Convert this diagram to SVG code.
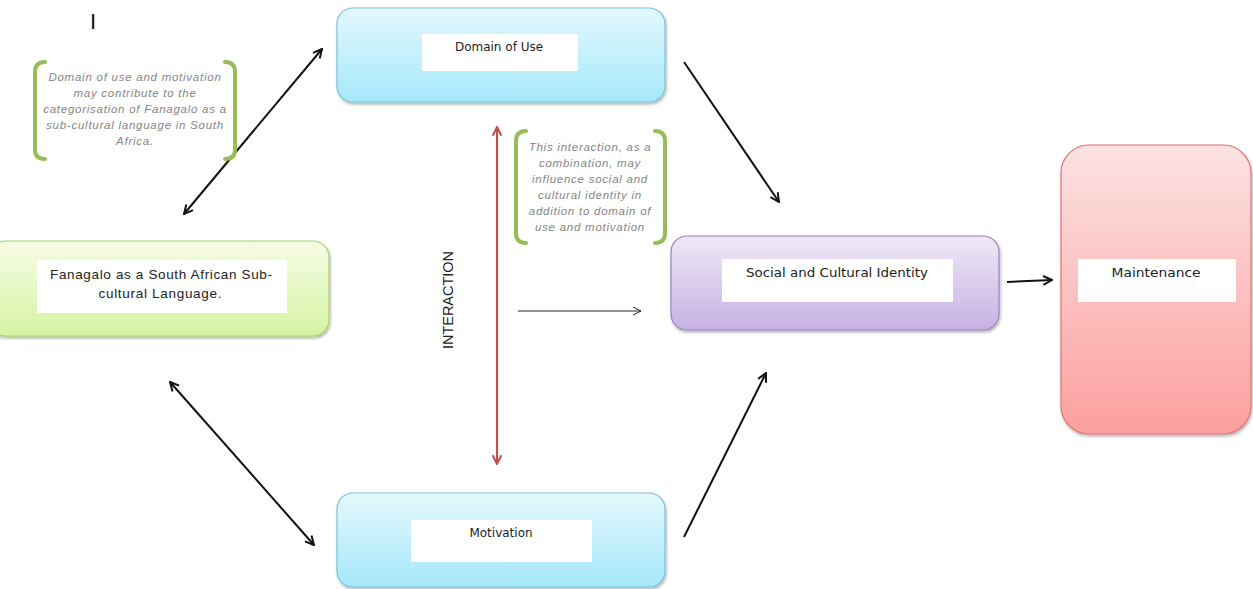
<svg xmlns="http://www.w3.org/2000/svg" width="1253" height="589" viewBox="0 0 1253 589">
<style>
.lbl{font-family:"DejaVu Sans","Verdana",sans-serif;font-size:12px;fill:#222;text-anchor:middle}
.note{font-family:"Liberation Sans","Arial",sans-serif;font-style:italic;font-size:11.5px;fill:#858585;text-anchor:middle;letter-spacing:0.75px}
.brk{fill:none;stroke:#9bbb59;stroke-width:4;stroke-linecap:round}
.conn{stroke:#111;stroke-width:2;fill:none}
.white{fill:#fff}
</style>
<defs>
<linearGradient id="gBlue" x1="0" y1="0" x2="0" y2="1"><stop offset="0" stop-color="#e4f8fd"/><stop offset="1" stop-color="#a5e8fb"/></linearGradient>
<linearGradient id="gGreen" x1="0" y1="0" x2="0" y2="1"><stop offset="0" stop-color="#f6fce6"/><stop offset="1" stop-color="#d6f3a2"/></linearGradient>
<linearGradient id="gPurple" x1="0" y1="0" x2="0" y2="1"><stop offset="0" stop-color="#efe9f8"/><stop offset="1" stop-color="#c6b1e2"/></linearGradient>
<linearGradient id="gPink" x1="0" y1="0" x2="0" y2="1"><stop offset="0" stop-color="#fde2e2"/><stop offset="1" stop-color="#fc9f9f"/></linearGradient>
<filter id="sh" x="-10%" y="-10%" width="120%" height="130%"><feDropShadow dx="1" dy="2" stdDeviation="1.5" flood-color="#000" flood-opacity="0.3"/></filter>
<marker id="ah" viewBox="0 0 10 10" refX="9" refY="5" markerWidth="5.5" markerHeight="5.5" orient="auto-start-reverse" markerUnits="strokeWidth"><path d="M1,1 L9,5 L1,9" fill="none" stroke="#111" stroke-width="1.8"/></marker>
<marker id="ahThin" viewBox="0 0 10 10" refX="9" refY="5" markerWidth="10" markerHeight="10" orient="auto" markerUnits="strokeWidth"><path d="M1,1 L9,5 L1,9" fill="none" stroke="#222" stroke-width="1"/></marker>
<marker id="ahRed" viewBox="0 0 10 10" refX="9" refY="5" markerWidth="5" markerHeight="5" orient="auto-start-reverse" markerUnits="strokeWidth"><path d="M1,1 L9,5 L1,9" fill="none" stroke="#c0504d" stroke-width="1.8"/></marker>
</defs>
<rect width="1253" height="589" fill="#fff"/>

<text x="93" y="29" font-family="Liberation Sans, Arial, sans-serif" font-size="22" fill="#111" text-anchor="middle">I</text>

<g id="connectors">
<line class="conn" x1="184" y1="214" x2="322" y2="49" marker-start="url(#ah)" marker-end="url(#ah)"/>
<line class="conn" x1="170" y1="382" x2="314" y2="545" marker-start="url(#ah)" marker-end="url(#ah)"/>
<line class="conn" x1="684" y1="62" x2="779" y2="202" marker-end="url(#ah)"/>
<line class="conn" x1="684" y1="537" x2="766" y2="373" marker-end="url(#ah)"/>
<line class="conn" x1="1007" y1="282" x2="1052" y2="280" marker-end="url(#ah)"/>
<line x1="518" y1="311" x2="641" y2="311" stroke="#222" stroke-width="1" marker-end="url(#ahThin)"/>
<line x1="497" y1="127" x2="497" y2="464" stroke="#c0504d" stroke-width="2.2" marker-start="url(#ahRed)" marker-end="url(#ahRed)"/>
</g>

<g id="interaction-label">
<text transform="translate(453,300) rotate(-90)" font-family="Liberation Sans, Arial, sans-serif" font-size="15" fill="#222" text-anchor="middle" textLength="98" lengthAdjust="spacingAndGlyphs">INTERACTION</text>
</g>

<g id="note-left">
<path class="brk" d="M45,62 Q35,62 35,72 L35,150 Q35,159 45,159"/>
<path class="brk" d="M225,62 Q235,62 235,72 L235,150 Q235,159 225,159"/>
<text class="note" x="135" y="81">Domain of use and motivation</text>
<text class="note" x="135" y="97">may contribute to the</text>
<text class="note" x="135" y="113">categorisation of Fanagalo as a</text>
<text class="note" x="135" y="129">sub-cultural language in South</text>
<text class="note" x="135" y="145">Africa.</text>
</g>

<g id="note-right">
<path class="brk" d="M526,131 Q516,131 516,141 L516,233 Q516,243 526,243"/>
<path class="brk" d="M655,131 Q665,131 665,141 L665,233 Q665,243 655,243"/>
<text class="note" x="590" y="151">This interaction, as a</text>
<text class="note" x="590" y="167">combination, may</text>
<text class="note" x="590" y="183">influence social and</text>
<text class="note" x="590" y="199">cultural identity in</text>
<text class="note" x="590" y="215">addition to domain of</text>
<text class="note" x="590" y="231">use and motivation</text>
</g>

<g id="domain-of-use">
<rect x="337" y="8" width="328" height="94" rx="16" fill="url(#gBlue)" stroke="#78c3d8" stroke-width="1.2" filter="url(#sh)"/>
<rect class="white" x="422" y="34" width="156" height="37"/>
<text class="lbl" x="499" y="51">Domain of Use</text>
</g>

<g id="motivation">
<rect x="337" y="493" width="328" height="94" rx="16" fill="url(#gBlue)" stroke="#78c3d8" stroke-width="1.2" filter="url(#sh)"/>
<rect class="white" x="411" y="520" width="181" height="42"/>
<text class="lbl" x="501" y="537">Motivation</text>
</g>

<g id="fanagalo">
<rect x="-10" y="241" width="339" height="95" rx="16" fill="url(#gGreen)" stroke="#a8d36a" stroke-width="1.2" filter="url(#sh)"/>
<rect class="white" x="37" y="260" width="250" height="53"/>
<text x="161" y="279" font-family="Liberation Sans, Arial, sans-serif" font-size="13.5" fill="#222" text-anchor="middle" textLength="222" lengthAdjust="spacing">Fanagalo as a South African Sub-</text>
<text x="160" y="298" font-family="Liberation Sans, Arial, sans-serif" font-size="13.5" fill="#222" text-anchor="middle" textLength="123" lengthAdjust="spacing">cultural Language.</text>
</g>

<g id="social-cultural-identity">
<rect x="671" y="236" width="328" height="94" rx="16" fill="url(#gPurple)" stroke="#9a80c2" stroke-width="1.2" filter="url(#sh)"/>
<rect class="white" x="722" y="259" width="231" height="43"/>
<text class="lbl" x="837" y="277" textLength="182" lengthAdjust="spacingAndGlyphs">Social and Cultural Identity</text>
</g>

<g id="maintenance">
<rect x="1061" y="145" width="190" height="289" rx="28" fill="url(#gPink)" stroke="#e07474" stroke-width="1.2" filter="url(#sh)"/>
<rect class="white" x="1078" y="259" width="158" height="43"/>
<text class="lbl" x="1156" y="277" textLength="89" lengthAdjust="spacingAndGlyphs">Maintenance</text>
</g>
</svg>
